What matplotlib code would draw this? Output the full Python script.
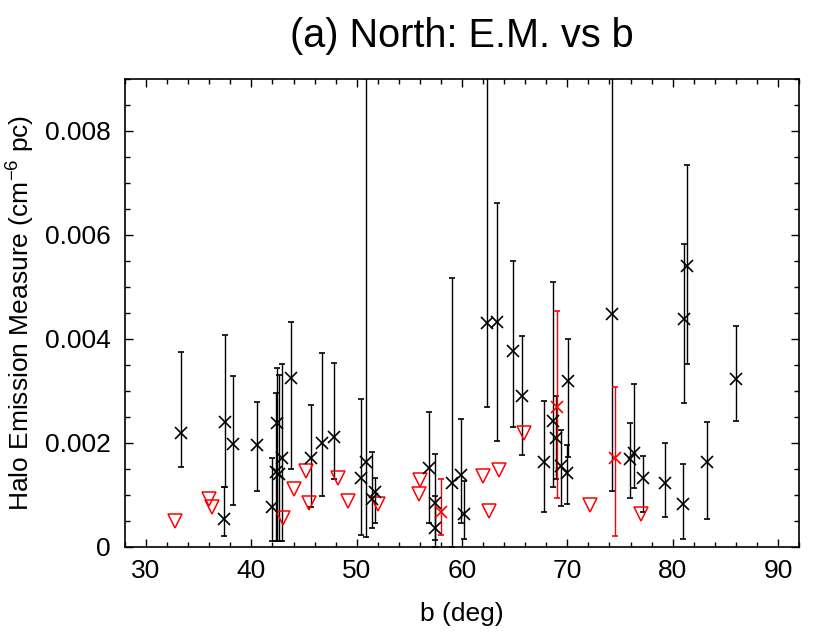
import matplotlib
matplotlib.use("Agg")
import matplotlib.pyplot as plt
import numpy as np
from matplotlib.ticker import MultipleLocator, FuncFormatter

plt.rcParams['font.family'] = ['Liberation Sans', 'DejaVu Sans']
plt.rcParams['mathtext.fontset'] = 'custom'
plt.rcParams['mathtext.rm'] = 'Liberation Sans'
plt.rcParams['mathtext.it'] = 'Liberation Sans:italic'

# Black detections: b (deg), EM, lower bound, upper bound
det_b = [33.32, 37.5, 37.4, 38.23, 40.5, 42.0, 42.4, 42.3, 42.6, 42.95, 43.8, 45.7, 46.7,
         47.8, 50.4, 50.85, 51.45, 51.7, 56.9, 57.45, 57.4, 59.05, 59.95, 60.2, 62.35,
         63.37, 64.88, 65.7, 67.8, 68.6, 68.9, 69.4, 70.07, 70.0, 74.28, 75.97, 76.3,
         77.15, 79.3, 81.0, 81.1, 81.4, 83.3, 86.0]
det_em = [0.00219, 0.0024, 0.00053, 0.00197, 0.00195, 0.00077, 0.00238, 0.00144, 0.0014,
          0.0017, 0.00325, 0.00171, 0.0020, 0.00211, 0.00131, 0.00163, 0.00091, 0.00104,
          0.00152, 0.00084, 0.00036, 0.00122, 0.00138, 0.00062, 0.0043, 0.00432, 0.00377,
          0.0029, 0.00163, 0.00241, 0.00209, 0.00155, 0.00319, 0.00142, 0.00448, 0.00168,
          0.0018, 0.00131, 0.00122, 0.00081, 0.00438, 0.0054, 0.00163, 0.00323]
det_lo = [0.00153, 0.00115, 0.0002, 0.0008, 0.00107, 0.0001, 0.0001, 0.0001, 0.0001,
          0.0001, 0.00149, 0.00077, 0.00098, 0.0013, 0.00022, 0.00018, 0.00035, 0.00046,
          0.00045, 0.00012, 0.0, 0.0, 0.00045, 0.00014, 0.00268, 0.00203, 0.0023,
          0.00177, 0.00066, 0.00114, 0.0013, 0.00078, 0.00172, 0.00082, 0.00107, 0.00093,
          0.00112, 0.00067, 0.00056, 0.00014, 0.00277, 0.00351, 0.00052, 0.00241]
det_hi = [0.00375, 0.00407, 0.00115, 0.00328, 0.00279, 0.0017, 0.00343, 0.00295, 0.0033,
          0.00352, 0.00432, 0.00273, 0.00372, 0.00354, 0.00284, 0.012, 0.00181, 0.00131,
          0.00259, 0.00179, 0.00098, 0.00516, 0.00245, 0.00126, 0.012, 0.00661, 0.0055,
          0.00406, 0.0028, 0.00509, 0.0029, 0.00224, 0.00399, 0.00195, 0.012, 0.00238,
          0.00313, 0.00174, 0.0020, 0.00158, 0.00582, 0.00735, 0.0024, 0.00425]

# Red detections
red_b = [58.0, 69.0, 74.57]
red_em = [0.00067, 0.00269, 0.0017]
red_lo = [0.00022, 0.00094, 0.0002]
red_hi = [0.0013, 0.00453, 0.00307]

# Red upper limits
lim_b = [32.75, 36.0, 36.3, 43.0, 44.0, 45.2, 45.5, 48.25, 49.15, 52.0, 56.0, 55.96,
         61.96, 62.6, 63.55, 65.9, 72.2, 77.0]
lim_em = [0.0005, 0.00091, 0.00077, 0.00054, 0.00111, 0.00145, 0.00084, 0.00132, 0.00087,
          0.00082, 0.00128, 0.00101, 0.00136, 0.00068, 0.00147, 0.00218, 0.0008, 0.00062]

fig = plt.figure(figsize=(8.3, 6.41), dpi=100)
ax = fig.add_axes([125/830, 1-546.5/641, (799-125)/830, (546.5-79)/641])

def draw(b, em, lo, hi, color):
    b = np.array(b); em = np.array(em)
    yerr = np.vstack([em - np.array(lo), np.array(hi) - em])
    ax.errorbar(b, em, yerr=yerr, fmt='x', color=color, ecolor=color,
                markersize=8, markeredgewidth=1.2, elinewidth=1.0, capsize=2.3,
                capthick=1.0)

draw(det_b, det_em, det_lo, det_hi, 'black')
draw(red_b, red_em, red_lo, red_hi, '#ff0000')
ax.plot(lim_b, lim_em, 'v', markersize=10, markerfacecolor='none',
        markeredgecolor='#ff0000', markeredgewidth=1.1, linestyle='none')

ax.set_xlim(28, 92)
ax.set_ylim(0, 0.009)
ax.xaxis.set_major_locator(MultipleLocator(10))
ax.xaxis.set_minor_locator(MultipleLocator(2))
ax.yaxis.set_major_locator(MultipleLocator(0.002))
ax.yaxis.set_minor_locator(MultipleLocator(0.0005))
ax.yaxis.set_major_formatter(FuncFormatter(lambda v, p: '0' if abs(v) < 1e-12 else f'{v:.3f}'))
ax.tick_params(which='both', direction='in', top=True, right=True, labelsize=19)
ax.tick_params(which='major', length=6, width=1)
ax.tick_params(which='minor', length=3.5, width=1)
ax.tick_params(axis='x', pad=9)
ax.tick_params(axis='y', pad=10)
for s in ax.spines.values():
    s.set_linewidth(1.2)

ax.set_xlabel('b (deg)', fontsize=19, labelpad=14)
ax.set_ylabel('Halo Emission Measure (cm$^{-6}$ pc)', fontsize=19, labelpad=6)
ax.set_title('(a) North: E.M. vs b', fontsize=28.5, pad=23)

fig.savefig('out.png', dpi=100)
